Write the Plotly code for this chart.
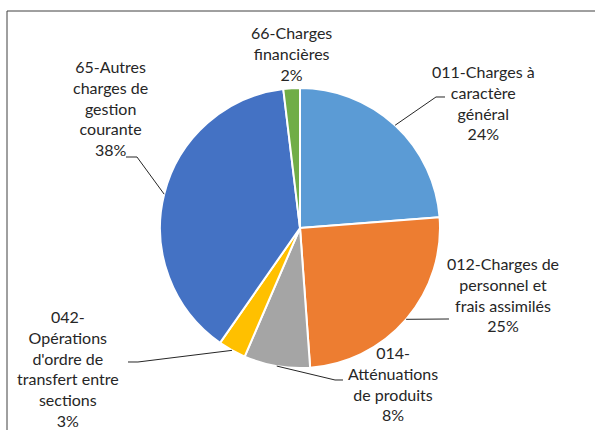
import numpy as np
import plotly.graph_objects as go

# ---- data ----
labels = ["011-Charges à caractère général",
          "012-Charges de personnel et frais assimilés",
          "014-Atténuations de produits",
          "042-Opérations d'ordre de transfert entre sections",
          "65-Autres charges de gestion courante",
          "66-Charges financières"]
label_lines = [["011-Charges à", "caractère", "général"],
               ["012-Charges de", "personnel et", "frais assimilés"],
               ["014-", "Atténuations", "de produits"],
               ["042-", "Opérations", "d'ordre de", "transfert entre", "sections"],
               ["65-Autres", "charges de", "gestion", "courante"],
               ["66-Charges", "financières"]]
values = [23.7, 25.0, 7.6, 3.2, 38.3, 1.9]
colors = ["#5B9BD5", "#ED7D31", "#A5A5A5", "#FFC000", "#4472C4", "#70AD47"]

# ---- layout (pixels in a 595x430 canvas) ----
W, H = 595, 430
CX, CY, R = 300, 228, 140
# label centre positions (x, y)
label_pos = [(483, 102), (503, 294), (393, 383), (68, 368), (110, 108), (291, 54)]
# leader line bend/end points (None = no leader)
leader_pts = [[(436, 97), (445, 97)],
              [(449, 319)],
              [(335, 380), (343, 380)],
              [(138, 362), (128, 362)],
              [(137, 157), (126, 157)],
              None]

def px(x):
    return x / W

def py(y):
    return 1 - y / H

vals = np.array(values)
total = vals.sum()
cum = np.cumsum(vals) - vals / 2
mid_deg = cum / total * 360.0

fig = go.Figure(go.Pie(
    labels=labels, values=values, sort=False, direction="clockwise", rotation=0,
    marker=dict(colors=colors, line=dict(color="white", width=2)),
    textinfo="none", hoverinfo="label+percent", showlegend=False,
    domain=dict(x=[px(CX - R), px(CX + R)], y=[py(CY + R), py(CY - R)]),
))

font = dict(family="Lato, Calibri, sans-serif", size=16, color="#262626")
annotations = []
shapes = []
for i, (lines, (lx, ly)) in enumerate(zip(label_lines, label_pos)):
    pct = f"{round(values[i] / total * 100)}%"
    annotations.append(dict(x=px(lx), y=py(ly), xref="paper", yref="paper",
                            text="<br>".join(lines + [pct]), showarrow=False,
                            xanchor="center", yanchor="middle", align="center",
                            font=font))
    if leader_pts[i]:
        a = np.deg2rad(mid_deg[i])
        sx, sy = CX + R * np.sin(a), CY - R * np.cos(a)
        pts = [(sx, sy)] + leader_pts[i]
        path = "M " + " L ".join(f"{px(x):.5f},{py(y):.5f}" for x, y in pts)
        shapes.append(dict(type="path", path=path, xref="paper", yref="paper",
                           line=dict(color="#262626", width=1)))

# chart frame
shapes.append(dict(type="rect", xref="paper", yref="paper",
                   x0=px(7), x1=px(620), y0=py(460), y1=py(11),
                   line=dict(color="#404040", width=1), fillcolor="rgba(0,0,0,0)"))

fig.update_layout(width=W, height=H, margin=dict(l=0, r=0, t=0, b=0),
                  paper_bgcolor="white", plot_bgcolor="white",
                  annotations=annotations, shapes=shapes)
fig.write_html("out.html")
